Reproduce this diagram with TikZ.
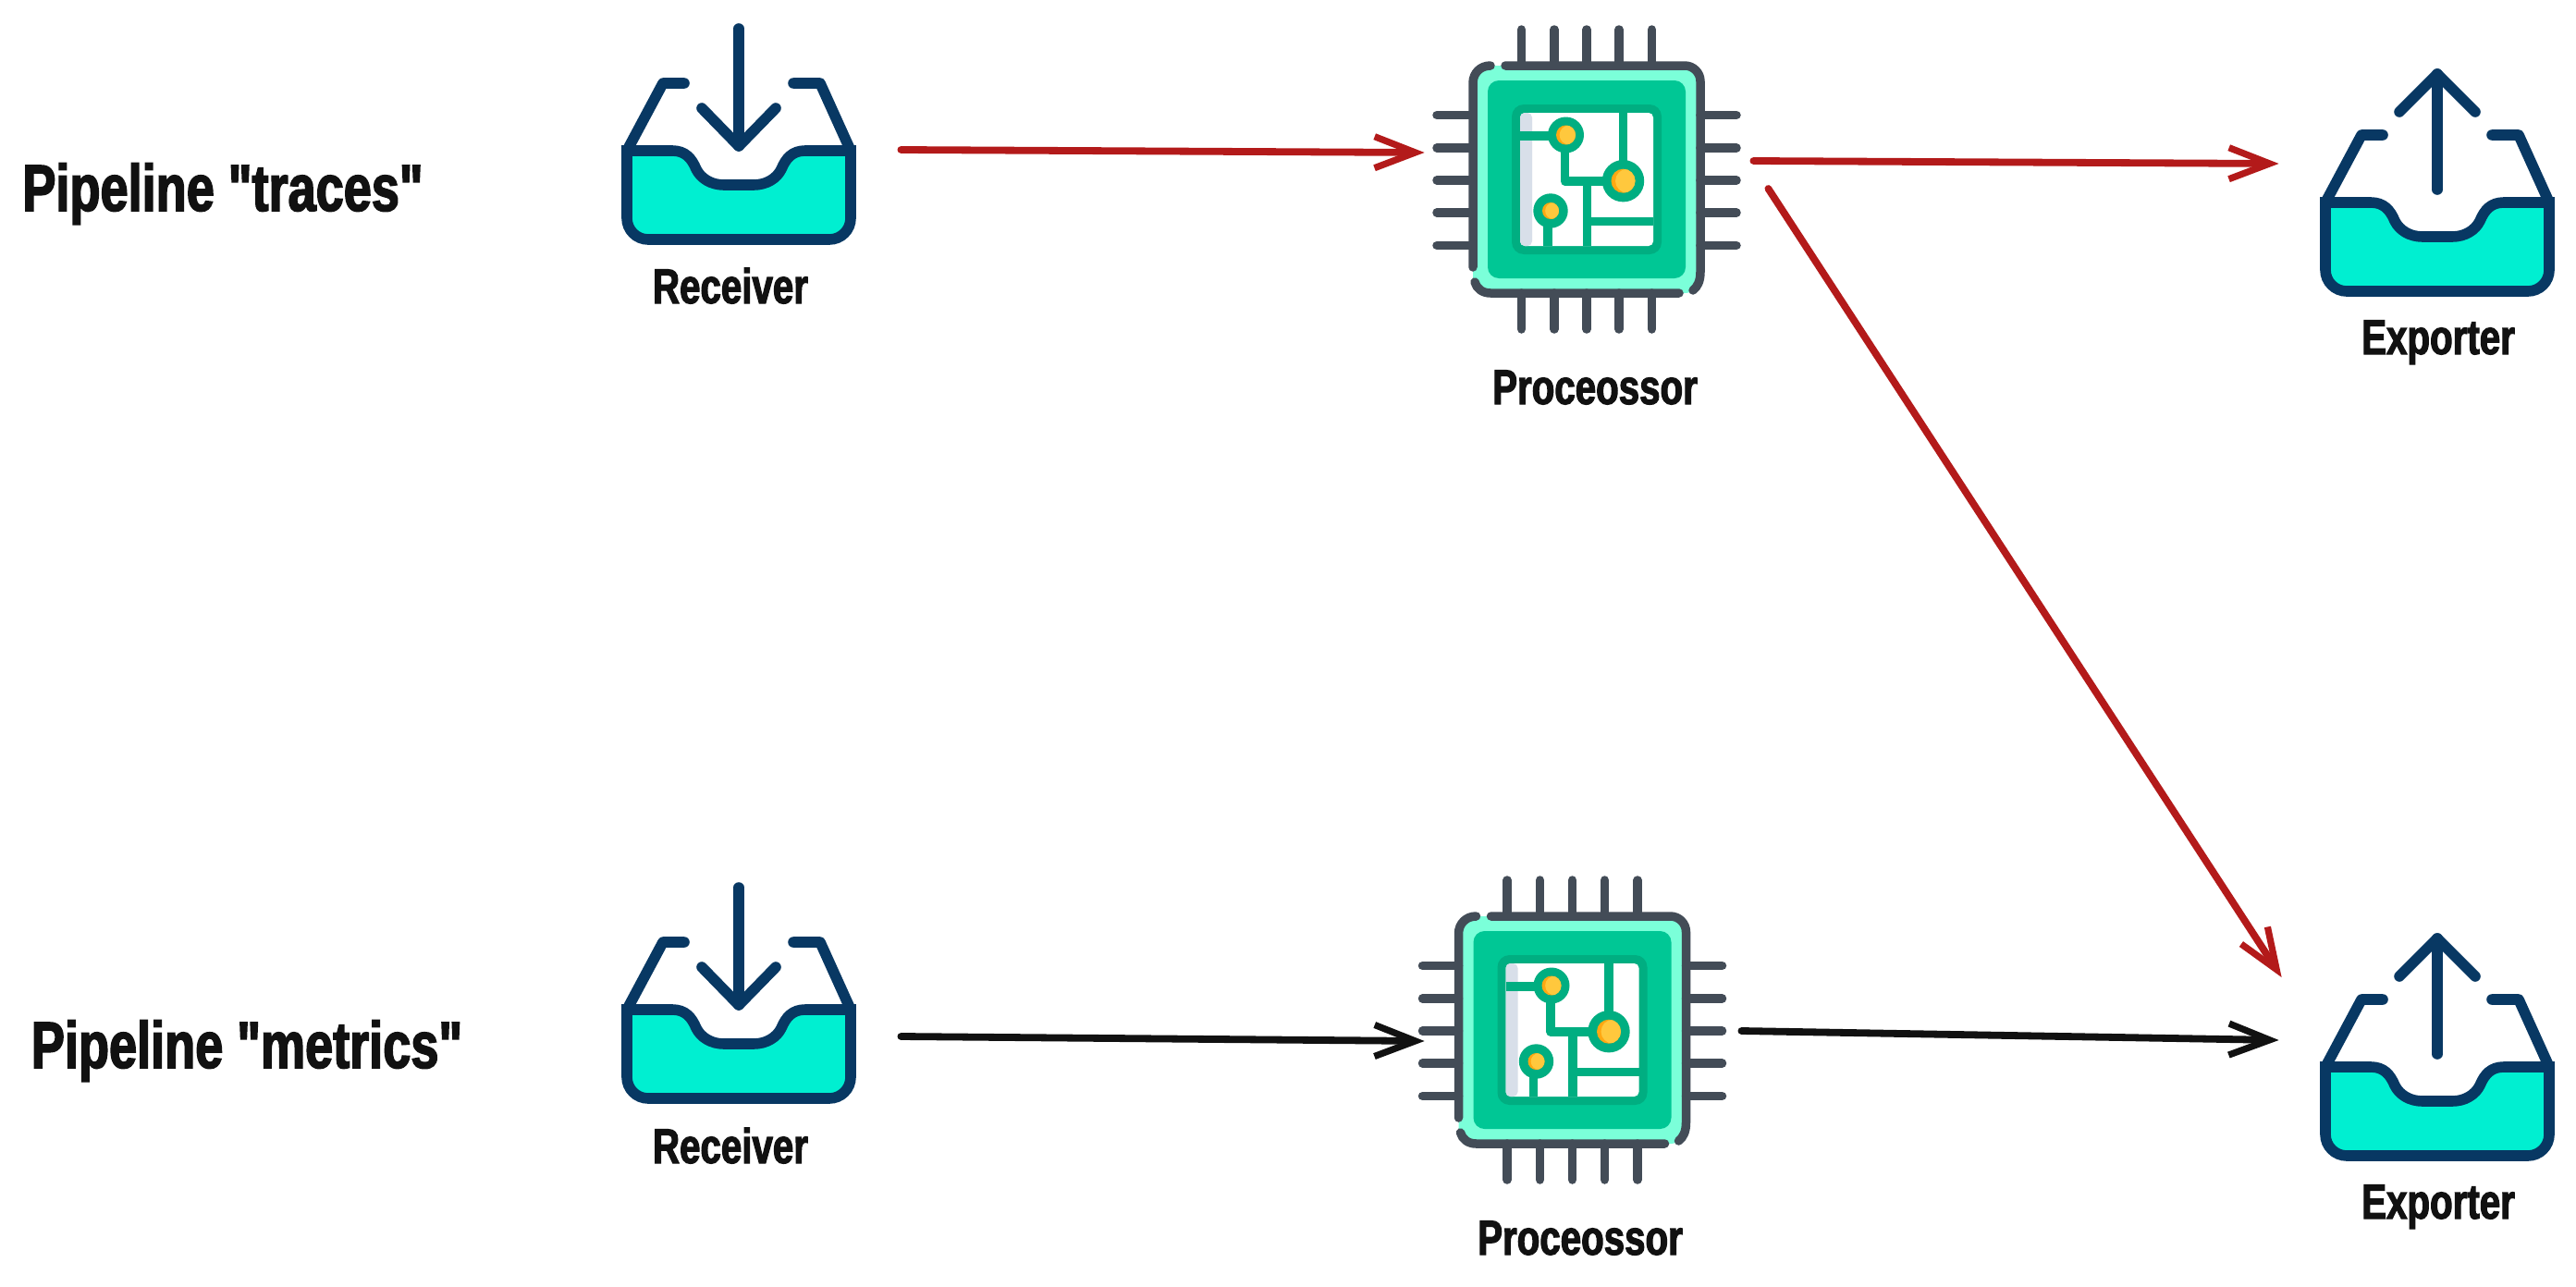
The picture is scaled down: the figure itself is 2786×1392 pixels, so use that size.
\documentclass[tikz,border=0pt]{standalone}
\usepackage{fontspec}
\newfontfamily\labelfont[FakeStretch=0.76,FakeBold=2.2]{Liberation Sans Bold}
\usetikzlibrary{arrows.meta}

\definecolor{traynavy}{HTML}{083863}
\definecolor{trayfill}{HTML}{00EFD1}
\definecolor{chipgrey}{HTML}{434C57}
\definecolor{chiplight}{HTML}{7BFFD9}
\definecolor{chipmid}{HTML}{00C795}
\definecolor{chipdark}{HTML}{00AE81}
\definecolor{chipstrip}{HTML}{D8DFE9}
\definecolor{dotyellow}{HTML}{FFC83D}
\definecolor{dotorange}{HTML}{FFA812}
\definecolor{flowred}{HTML}{B31A1A}
\definecolor{inkblack}{HTML}{111111}

\newcommand{\chipdot}[4]{
  \fill[chipdark] (#1,#2) circle (#3);
  \fill[dotorange] (#1,#2) circle (#4);
  \begin{scope}
    \clip (#1,#2) circle (#4);
    \fill[dotyellow] (#1+#4*0.35,#2) circle (#4);
  \end{scope}
}

\tikzset{
  tray/.pic={
    \draw[trayline,fill=trayfill] (-121,0) -- (-72,0)
      .. controls (-58,0) and (-51,8) .. (-46,20)
      .. controls (-41,30) and (-30,37) .. (-16,37) -- (16,37)
      .. controls (30,37) and (41,30) .. (46,20)
      .. controls (51,8) and (58,0) .. (72,0) -- (121,0)
      [rounded corners=11.5pt] -- (121,96) -- (-121,96) [sharp corners] -- cycle;
    \draw[trayline,line join=round] (-121,0) -- (-82,-73) -- (-59,-73);
    \draw[trayline,line join=round] (121,0) -- (88,-73) -- (59,-73);
  },
  inarrow/.pic={
    \draw[trayline] (0,-132) -- (0,-5);
    \draw[trayline,line join=round] (-40,-46) -- (0,-5) -- (40,-46);
  },
  outarrow/.pic={
    \draw[trayline] (0,-14) -- (0,-139);
    \draw[trayline,line join=round] (-41,-98) -- (0,-139) -- (41,-98);
  },
  chip/.pic={
    \fill[chiplight] (-123,-123) [rounded corners=8.5pt] rectangle (123,123);
    \fill[chipmid,rounded corners=6pt] (-107,-107) rectangle (107,107);
    \fill[chipdark,rounded corners=6.5pt] (-81,-81) rectangle (81,81);
    \fill[white,rounded corners=2.5pt] (-72,-72) rectangle (72,72);
    \fill[chipstrip,rounded corners=2.5pt] (-72,-72) rectangle (-59,72);
    % circuit traces
    \draw[traceline] (-72,-47) -- (-22,-47);
    \draw[traceline,line join=round] (-23.5,-47) -- (-23.5,2) -- (39.5,2);
    \draw[traceline] (39.5,-72) -- (39.5,2);
    \draw[traceline] (0.5,2) -- (0.5,72);
    \draw[traceline] (0.5,45.7) -- (72,45.7);
    \draw[traceline] (-42,34) -- (-42,72);
    \chipdot{-22.5}{-48}{19.5}{10.5}
    \chipdot{39.5}{1.7}{22.7}{13}
    \chipdot{-39}{34}{18.7}{9}
    % pins
    \foreach \p in {-70.5,-35,0,35,70.5} {
      \draw[pinline] (\p,-123) -- (\p,-162);
      \draw[pinline] (\p,123) -- (\p,162);
      \draw[pinline] (-123,\p+1) -- (-162,\p+1);
      \draw[pinline] (123,\p+1) -- (162,\p+1);
    }
    % body outline, broken in four places
    \draw[pinline] (-88,-123) [rounded corners=8.5pt] -- (123,-123) [sharp corners] -- (123,100)
      .. controls (123,110) and (120,116) .. (115,120);
    \draw[pinline] (100,123) -- (-104,123) .. controls (-113,123) and (-119,118) .. (-121,111);
    \draw[pinline] (-123,95) -- (-123,-104) .. controls (-123,-115) and (-115,-123) .. (-104,-123);
  }
}

\begin{document}
\begin{tikzpicture}[
  x=0.5pt,y=-0.5pt,
  trayline/.style={draw=traynavy,line width=5.8pt,line cap=round},
  traceline/.style={draw=chipdark,line width=4.75pt},
  pinline/.style={draw=chipgrey,line width=4.75pt,line cap=round},
  traybox/.style={inner sep=0pt,minimum width=171pt,minimum height=10pt},
  chipbox/.style={inner sep=0pt,minimum width=170pt,minimum height=10pt},
  caption/.style={anchor=base,text=inkblack,font=\labelfont\fontsize{26.5}{30}\selectfont},
  heading/.style={anchor=base,text=inkblack,font=\labelfont\fontsize{35.6}{40}\selectfont},
  flow/.style={-{Straight Barb[length=22pt,width=17pt,line width=3.6pt]},line width=3.9pt,line cap=round},
  redflow/.style={flow,draw=flowred,color=flowred},
  blackflow/.style={flow,draw=inkblack,color=inkblack}]

  \useasboundingbox (0,0) rectangle (2786,1392);

  % Pipeline names
  \node[heading] (pipelinetraces) at (241,228) {Pipeline "traces"};
  \node[heading] (pipelinemetrics) at (267,1155) {Pipeline "metrics"};

  % Upper row
  \node[traybox] (receivertraces) at (799,163) {};
  \pic at (receivertraces) {tray};
  \pic at (receivertraces) {inarrow};
  \node[caption] (labelreceivertraces) at (790,328) {Receiver};

  \node[chipbox] (processortraces) at (1716,194) {};
  \pic at (processortraces) {chip};
  \node[caption] (labelprocessortraces) at (1725,437) {Proceossor};

  \node[traybox] (exportertraces) at (2636,219) {};
  \pic at (exportertraces) {tray};
  \pic at (exportertraces) {outarrow};
  \node[caption] (labelexportertraces) at (2637,383) {Exporter};

  % Lower row
  \node[traybox] (receivermetrics) at (799,1092) {};
  \pic at (receivermetrics) {tray};
  \pic at (receivermetrics) {inarrow};
  \node[caption] (labelreceivermetrics) at (790,1258) {Receiver};

  \node[chipbox] (processormetrics) at (1700.5,1114) {};
  \pic at (processormetrics) {chip};
  \node[caption] (labelprocessormetrics) at (1709,1357) {Proceossor};

  \node[traybox] (exportermetrics) at (2636,1154) {};
  \pic at (exportermetrics) {tray};
  \pic at (exportermetrics) {outarrow};
  \node[caption] (labelexportermetrics) at (2637,1318) {Exporter};

  % Draw the arrows between the nodes
  \draw[redflow] ([xshift=2pt,yshift=.5pt]receivertraces.east) -- ([xshift=-2.5pt,yshift=14.5pt]processortraces.west);
  \draw[redflow] ([xshift=5pt,yshift=10pt]processortraces.east) -- ([yshift=21pt]exportertraces.west);
  \draw[redflow] ([xshift=13pt,yshift=-5pt]processortraces.east) -- ([xshift=1.5pt,yshift=48.5pt]exportermetrics.west);
  \draw[blackflow] ([xshift=2pt,yshift=-14.5pt]receivermetrics.east) -- ([xshift=5.25pt,yshift=-6pt]processormetrics.west);
  \draw[blackflow] ([xshift=6.25pt,yshift=-.5pt]processormetrics.east) -- ([yshift=14.5pt]exportermetrics.west);
\end{tikzpicture}
\end{document}
